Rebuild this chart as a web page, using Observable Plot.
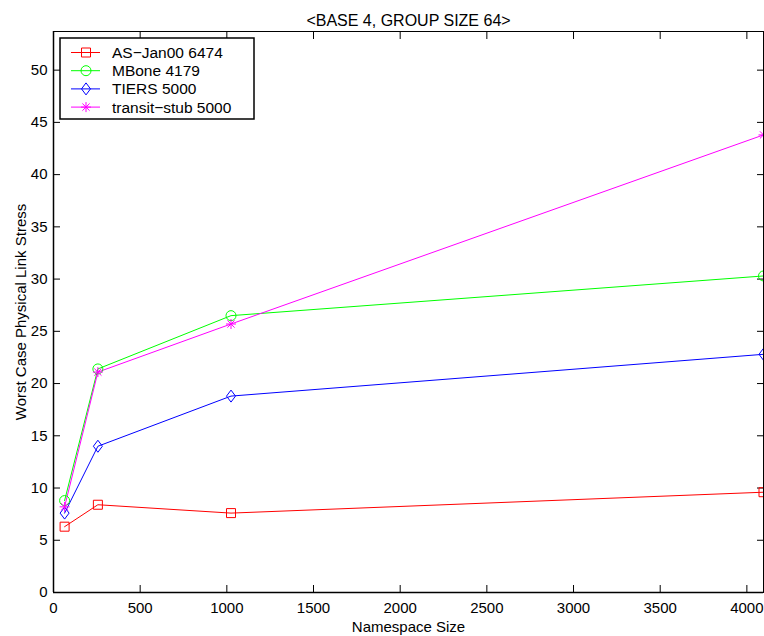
<!DOCTYPE html>
<html>
<head>
<meta charset="utf-8">
<script src="https://cdn.jsdelivr.net/npm/d3@7"></script>
<script src="https://cdn.jsdelivr.net/npm/@observablehq/plot@0.6"></script>
<style>
  html, body { margin: 0; padding: 0; background: #fff; }
  #chart svg { display: block; font-family: "Liberation Sans", Arial, sans-serif; }
</style>
</head>
<body>
<div id="chart"></div>
<script>
// ---- data ----
const namespaceSizes = [64, 256, 1024, 4096];
const asJan00 = [6.3, 8.4, 7.6, 9.6];
const mbone = [8.8, 21.4, 26.5, 30.3];
const tiers = [7.6, 14.0, 18.8, 22.8];
const transitStub = [8.2, 21.1, 25.7, 43.8];
const seriesNames = ["AS−Jan00 6474", "MBone 4179", "TIERS 5000", "transit−stub 5000"];
const seriesColors = ["#ff0000", "#00ff00", "#0000ff", "#ff00ff"];
const xTicks = [0, 500, 1000, 1500, 2000, 2500, 3000, 3500, 4000];
const yTicks = [0, 5, 10, 15, 20, 25, 30, 35, 40, 45, 50];
const titleText = "<BASE 4, GROUP SIZE 64>";
const xLabel = "Namespace Size";
const yLabel = "Worst Case Physical Link Stress";

const seriesValues = [asJan00, mbone, tiers, transitStub];
const data = seriesNames.flatMap((name, s) =>
  namespaceSizes.map((x, i) => ({series: name, x, y: seriesValues[s][i]})));

// ---- custom MATLAB-like symbols ----
const symSquare = {draw(c, size) { const h = 4.5; c.moveTo(-h, -h); c.lineTo(h, -h); c.lineTo(h, h); c.lineTo(-h, h); c.closePath(); }};
const symCircle = {draw(c, size) { const r = 5; c.moveTo(r, 0); c.arc(0, 0, r, 0, 2 * Math.PI); c.closePath(); }};
const symDiamond = {draw(c, size) { const w = 4.5, h = 6; c.moveTo(0, -h); c.lineTo(w, 0); c.lineTo(0, h); c.lineTo(-w, 0); c.closePath(); }};
const symStar = {draw(c, size) { const r = 5, d = 3.6;
  c.moveTo(-r, 0); c.lineTo(r, 0); c.moveTo(0, -r); c.lineTo(0, r);
  c.moveTo(-d, -d); c.lineTo(d, d); c.moveTo(-d, d); c.lineTo(d, -d); }};
const seriesSymbols = [symSquare, symCircle, symDiamond, symStar];

// legend drawn inside the frame
function legend(index, scales, values, dimensions) {
  const g = d3.create("svg:g");
  const x0 = dimensions.marginLeft + 7, y0 = dimensions.marginTop + 7;
  g.append("rect").attr("x", x0).attr("y", y0).attr("width", 194).attr("height", 81)
    .attr("fill", "#fff").attr("stroke", "#000").attr("stroke-width", 1.5);
  seriesNames.forEach((name, i) => {
    const y = y0 + 14.5 + i * 18.2;
    g.append("line").attr("x1", x0 + 11).attr("x2", x0 + 40).attr("y1", y).attr("y2", y)
      .attr("stroke", seriesColors[i]);
    const p = d3.path();
    seriesSymbols[i].draw(p, 0);
    g.append("path").attr("d", p.toString()).attr("transform", `translate(${x0 + 26},${y})`)
      .attr("fill", "none").attr("stroke", seriesColors[i]);
    g.append("text").attr("x", x0 + 52).attr("y", y).attr("dy", "0.36em")
      .attr("text-anchor", "start").attr("font-size", 15.5).attr("fill", "#000").text(name);
  });
  return g.node();
}

const fmtNone = () => "";
const fmtInt = d3.format("d");
const plot = Plot.plot({
  width: 764,
  height: 636,
  marginLeft: 53,
  marginRight: 1,
  marginTop: 31,
  marginBottom: 44,
  style: {fontSize: "15px", fontFamily: "Liberation Sans, Arial, sans-serif", color: "#000", background: "#fff"},
  x: {domain: [0, 4096]},
  y: {domain: [0, 53.7]},
  color: {domain: seriesNames, range: seriesColors},
  marks: [
    Plot.axisX({anchor: "bottom", ticks: xTicks, tickSize: -7, tickPadding: 17, tickFormat: fmtInt, label: xLabel, labelAnchor: "center", labelOffset: 39, labelArrow: "none"}),
    Plot.axisX({anchor: "top", ticks: xTicks, tickSize: -7, tickFormat: fmtNone, label: null}),
    Plot.axisY({anchor: "left", ticks: yTicks, tickSize: -7, tickPadding: 13, tickFormat: fmtInt, label: yLabel, labelAnchor: "center", labelOffset: 38, labelArrow: "none"}),
    Plot.axisY({anchor: "right", ticks: yTicks, tickSize: -7, tickFormat: fmtNone, label: null}),
    Plot.line(data, {x: "x", y: "y", z: "series", stroke: "series", strokeWidth: 1}),
    ...seriesNames.map((name, i) => Plot.dot(data.filter(d => d.series === name),
      {x: "x", y: "y", symbol: seriesSymbols[i], stroke: seriesColors[i], fill: "none", r: 5, strokeWidth: 1, clip: true})),
    Plot.frame({stroke: "#000", strokeWidth: 1}),
    Plot.ruleX([0], {stroke: "#000", strokeWidth: 1.5}),
    Plot.ruleY([0], {stroke: "#000", strokeWidth: 1.5}),
    Plot.text([titleText], {frameAnchor: "top", dy: -17, text: d => d, fontSize: 16}),
    legend
  ]
});
document.getElementById("chart").append(plot);
</script>
</body>
</html>
